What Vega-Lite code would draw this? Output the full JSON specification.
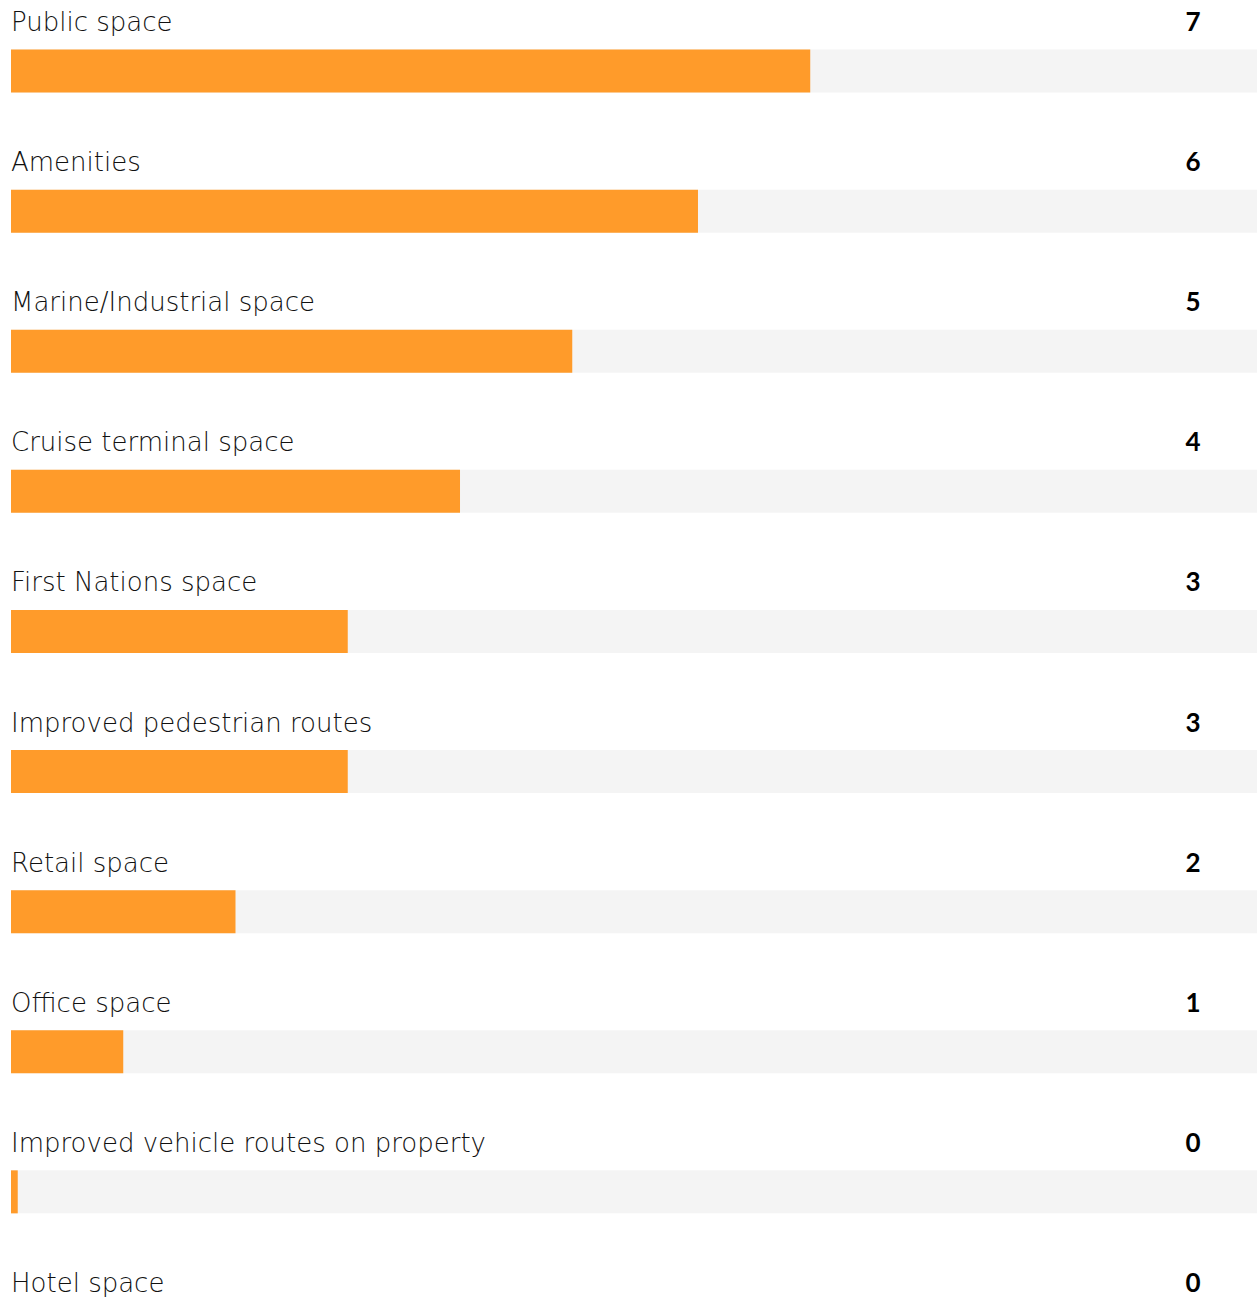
{
  "$schema": "https://vega.github.io/schema/vega-lite/v6.json",
  "width": 1246,
  "height": {"step": 140.1},
  "padding": {"left": 11, "top": 1, "right": 0, "bottom": 0},
  "background": "white",
  "config": {"view": {"stroke": null}, "font": "Lato"},
  "data": {
    "values": [
      {"category": "Public space", "value": 7.12, "label": "7"},
      {"category": "Amenities", "value": 6.12, "label": "6"},
      {"category": "Marine/Industrial space", "value": 5.0, "label": "5"},
      {"category": "Cruise terminal space", "value": 4.0, "label": "4"},
      {"category": "First Nations space", "value": 3.0, "label": "3"},
      {"category": "Improved pedestrian routes", "value": 3.0, "label": "3"},
      {"category": "Retail space", "value": 2.0, "label": "2"},
      {"category": "Office space", "value": 1.0, "label": "1"},
      {"category": "Improved vehicle routes on property", "value": 0.06, "label": "0"},
      {"category": "Hotel space", "value": 0.06, "label": "0"}
    ]
  },
  "encoding": {
    "y": {
      "field": "category",
      "type": "nominal",
      "sort": null,
      "axis": null,
      "scale": {"paddingInner": 0, "paddingOuter": 0}
    }
  },
  "layer": [
    {
      "mark": {"type": "bar", "color": "#f4f4f4", "height": 43},
      "encoding": {
        "x": {"datum": 0, "type": "quantitative", "scale": {"domain": [0, 11.1], "nice": false}, "axis": null},
        "x2": {"datum": 11.1}
      }
    },
    {
      "mark": {"type": "bar", "color": "#ff9b2a", "height": 43},
      "encoding": {
        "x": {"field": "value", "type": "quantitative", "scale": {"domain": [0, 11.1], "nice": false}, "axis": null}
      }
    },
    {
      "mark": {"type": "text", "align": "left", "baseline": "middle", "dy": -48, "fontSize": 26, "font": "DejaVu Sans", "fontWeight": 200, "color": "#111111"},
      "encoding": {
        "x": {"datum": 0, "type": "quantitative"},
        "text": {"field": "category"}
      }
    },
    {
      "mark": {"type": "text", "align": "center", "baseline": "middle", "dy": -48, "fontSize": 26, "fontWeight": "bold", "color": "#000000"},
      "encoding": {
        "x": {"datum": 10.53, "type": "quantitative"},
        "text": {"field": "label"}
      }
    }
  ]
}
